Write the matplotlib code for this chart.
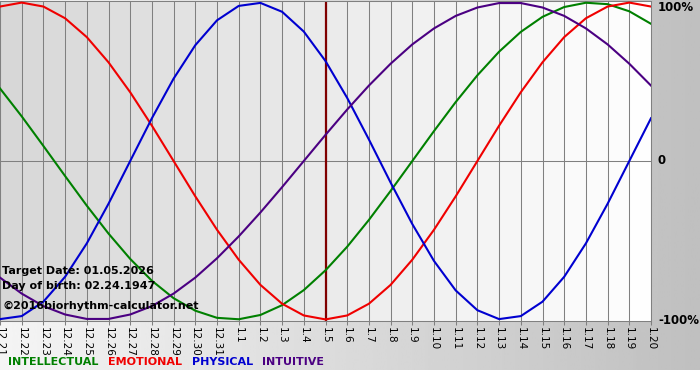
"""
Biyoritim grafiği: 12.21 - 1.20 arası günlük değerler.
"""

import matplotlib

matplotlib.use("Agg")
import matplotlib.pyplot as plt
import numpy as np

DATES = [
    "12.21", "12.22", "12.23", "12.24", "12.25", "12.26", "12.27", "12.28",
    "12.29", "12.30", "12.31", "1.1", "1.2", "1.3", "1.4", "1.5", "1.6",
    "1.7", "1.8", "1.9", "1.10", "1.11", "1.12", "1.13", "1.14", "1.15",
    "1.16", "1.17", "1.18", "1.19", "1.20",
]
TARGET = "1.5"

INTELLECTUAL = [
    0.458, 0.282, 0.095, -0.095, -0.282, -0.458, -0.618, -0.756, -0.866,
    -0.945, -0.990, -0.999, -0.972, -0.910, -0.815, -0.690, -0.541, -0.372,
    -0.189, 0.0, 0.189, 0.372, 0.541, 0.690, 0.815, 0.910, 0.972, 0.999,
    0.990, 0.945, 0.866,
]
EMOTIONAL = [
    0.975, 1.0, 0.975, 0.901, 0.782, 0.623, 0.434, 0.223, 0.0, -0.223,
    -0.434, -0.623, -0.782, -0.901, -0.975, -1.0, -0.975, -0.901, -0.782,
    -0.623, -0.434, -0.223, 0.0, 0.223, 0.434, 0.623, 0.782, 0.901, 0.975,
    1.0, 0.975,
]
PHYSICAL = [
    -0.998, -0.979, -0.888, -0.731, -0.520, -0.270, 0.0, 0.270, 0.520,
    0.731, 0.888, 0.979, 0.998, 0.942, 0.817, 0.631, 0.398, 0.136, -0.136,
    -0.398, -0.631, -0.817, -0.942, -0.998, -0.979, -0.888, -0.731, -0.520,
    -0.270, 0.0, 0.270,
]
INTUITIVE = [
    -0.736, -0.837, -0.916, -0.969, -0.997, -0.997, -0.969, -0.916, -0.837,
    -0.736, -0.614, -0.476, -0.325, -0.165, 0.0, 0.165, 0.325, 0.476, 0.614,
    0.736, 0.837, 0.916, 0.969, 0.997, 0.997, 0.969, 0.916, 0.837, 0.736,
    0.614, 0.476,
]

SERIES = [
    ("INTELLECTUAL", INTELLECTUAL, "#008000"),
    ("EMOTIONAL", EMOTIONAL, "#f00000"),
    ("PHYSICAL", PHYSICAL, "#0000d0"),
    ("INTUITIVE", INTUITIVE, "#4b0082"),
]

W, H = 700, 380
fig = plt.figure(figsize=(W / 100, H / 100), dpi=100)
fig.patch.set_facecolor("white")

# arka plan: soldan sağa açık griden koyu griye
bg = fig.add_axes([0, 10 / H, 1, 370 / H], zorder=0)
grad = np.linspace(0.96, 0.75, 256)[None, :]
bg.imshow(grad, cmap="gray", vmin=0, vmax=1, aspect="auto", extent=(0, 1, 0, 1))
bg.set_axis_off()

ax = fig.add_axes([0, 59 / H, 651 / W, 320 / H], zorder=1)
x = np.arange(len(DATES))
n = len(DATES) - 1
for i in range(n):
    level = 0.845 + 0.15 * i / (n - 1)
    ax.axvspan(i, i + 1, color=str(level), lw=0, zorder=0)

ax.set_xlim(0, n)
ax.set_ylim(-1.01, 1.01)
ax.set_xticks(x)
ax.set_xticklabels(DATES, rotation=270, fontsize=7.5)
ax.set_yticks([])
ax.tick_params(axis="x", length=3, width=0.75, color="#808080", pad=1.5)
ax.grid(axis="x", color="#808080", lw=0.75, zorder=1)
ax.axhline(0, color="#808080", lw=0.75, zorder=1)
for s in ax.spines.values():
    s.set_color("#808080")
    s.set_linewidth(0.75)

ax.axvline(DATES.index(TARGET), color="#800000", lw=1.6, zorder=2)

for name, vals, col in SERIES:
    ax.plot(x, vals, color=col, lw=1.5, zorder=3, solid_joinstyle="round")

# sağdaki yüzde etiketleri
tx = 1 + 7 / 651
ax.text(tx, 1.0, "100%", transform=ax.transAxes, ha="left", va="top",
        fontsize=8.5, fontweight="bold")
ax.text(tx, 0.5, "0", transform=ax.transAxes, ha="left", va="center",
        fontsize=8.5, fontweight="bold")
ax.text(tx, 0.0, "-100%", transform=ax.transAxes, ha="left", va="center",
        fontsize=8.5, fontweight="bold")

# sol alt bilgi metni
info = [
    (271, "Target Date: 01.05.2026"),
    (286, "Day of birth: 02.24.1947"),
    (306, "\u00a92016biorhythm-calculator.net"),
]
for py, txt in info:
    fig.text(2 / W, 1 - py / H, txt, ha="left", va="center",
             fontsize=8, fontweight="bold", color="black", zorder=5)

# lejant
lx = [8, 108, 192, 262]
for (name, _, col), px in zip(SERIES, lx):
    fig.text(px / W, 1 - 362 / H, name, ha="left", va="center",
             fontsize=8, fontweight="bold", color=col)

plt.savefig("out.png", dpi=100)
plt.close()
